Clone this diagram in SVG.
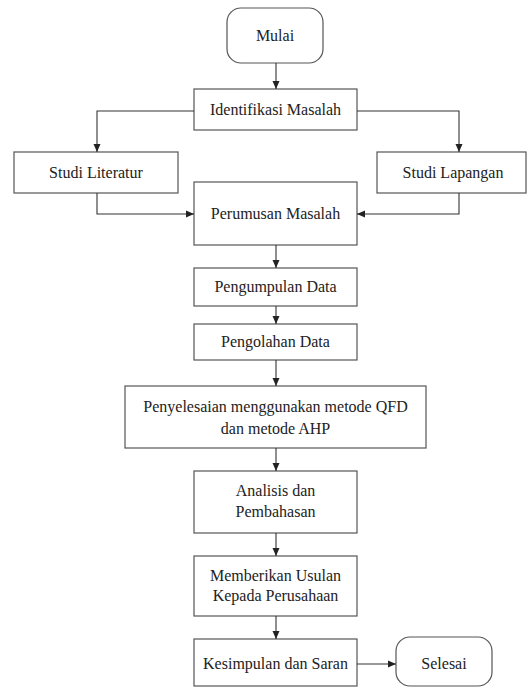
<svg xmlns="http://www.w3.org/2000/svg" width="529" height="690" viewBox="0 0 529 690">
<defs>
<marker id="ah" viewBox="0 0 8 8" refX="8" refY="4" markerWidth="8" markerHeight="8" markerUnits="userSpaceOnUse" orient="auto">
<path d="M0,0.5 L8,4 L0,7.5 Z" fill="#222"/>
</marker>
</defs>
<style>
.box{fill:#fff;stroke:#555;stroke-width:1.2}
.c{fill:none;stroke:#333;stroke-width:1.1;marker-end:url(#ah)}
</style>
<rect width="529" height="690" fill="#fff"/>
<g font-family="Liberation Serif" font-size="16" fill="#222" text-anchor="middle">
<g id="mulai"><rect class="box" x="227" y="8" width="96" height="55" rx="14"/><text x="275" y="41" font-family="Liberation Serif">Mulai</text></g>
<g id="identifikasi"><rect class="box" x="194" y="89" width="163" height="41"/><text x="275.5" y="115" font-family="Liberation Serif">Identifikasi Masalah</text></g>
<g id="literatur"><rect class="box" x="14" y="152" width="164" height="41"/><text x="96" y="178" font-family="Liberation Serif">Studi Literatur</text></g>
<g id="lapangan"><rect class="box" x="377" y="152" width="149" height="41"/><text x="453" y="178" font-family="Liberation Serif">Studi Lapangan</text></g>
<g id="perumusan"><rect class="box" x="194" y="182" width="163" height="63"/><text x="275.5" y="219" font-family="Liberation Serif">Perumusan Masalah</text></g>
<g id="pengumpulan"><rect class="box" x="194" y="268" width="163" height="38"/><text x="275.5" y="292" font-family="Liberation Serif">Pengumpulan Data</text></g>
<g id="pengolahan"><rect class="box" x="194" y="324" width="163" height="36"/><text x="275.5" y="347" font-family="Liberation Serif">Pengolahan Data</text></g>
<g id="penyelesaian"><rect class="box" x="125" y="386" width="301" height="62"/><text x="275.5" y="412" font-family="Liberation Serif">Penyelesaian menggunakan metode QFD</text><text x="275.5" y="434" font-family="Liberation Serif">dan metode AHP</text></g>
<g id="analisis"><rect class="box" x="194" y="471" width="163" height="62"/><text x="275.5" y="496" font-family="Liberation Serif">Analisis dan</text><text x="275.5" y="517" font-family="Liberation Serif">Pembahasan</text></g>
<g id="usulan"><rect class="box" x="194" y="556" width="163" height="60"/><text x="275.5" y="581" font-family="Liberation Serif">Memberikan Usulan</text><text x="275.5" y="601" font-family="Liberation Serif">Kepada Perusahaan</text></g>
<g id="kesimpulan"><rect class="box" x="194" y="639" width="163" height="47"/><text x="275.5" y="669" font-family="Liberation Serif">Kesimpulan dan Saran</text></g>
<g id="selesai"><rect class="box" x="396" y="637" width="96" height="49" rx="14"/><text x="444" y="669" font-family="Liberation Serif">Selesai</text></g>
</g>
<g id="connectors">
<path class="c" d="M276,63 V89"/>
<path class="c" d="M194,111 H97 V152"/>
<path class="c" d="M357,111 H459 V152"/>
<path class="c" d="M97,193 V214 H194"/>
<path class="c" d="M459,193 V214 H357"/>
<path class="c" d="M276,245 V268"/>
<path class="c" d="M276,306 V324"/>
<path class="c" d="M276,360 V386"/>
<path class="c" d="M276,448 V471"/>
<path class="c" d="M276,533 V556"/>
<path class="c" d="M276,616 V639"/>
<path class="c" d="M357,664 H396"/>
</g>
</svg>
